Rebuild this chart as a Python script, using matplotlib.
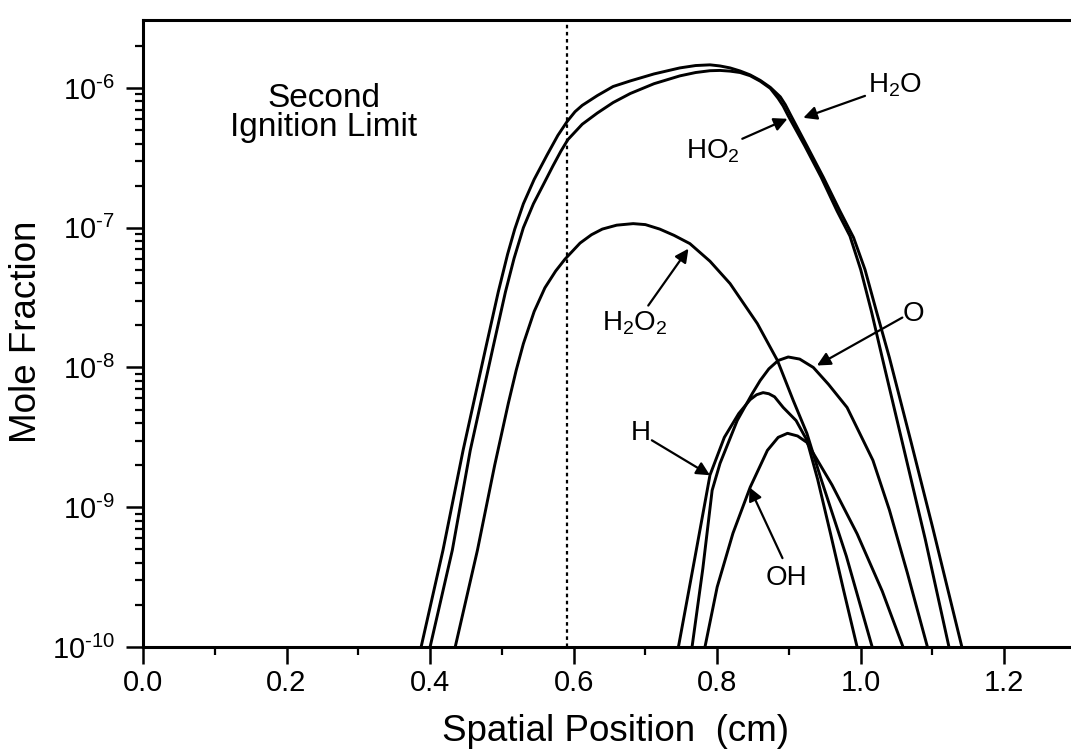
#!/usr/bin/env python3
"""
Species mole fraction profiles near the second ignition limit.
"""

import numpy as np
import matplotlib
matplotlib.use('Agg')
import matplotlib.pyplot as plt
from matplotlib.ticker import FixedLocator, NullFormatter, FuncFormatter

plt.rcParams['font.family'] = ['Liberation Sans', 'DejaVu Sans']
plt.rcParams['mathtext.fontset'] = 'custom'
plt.rcParams['mathtext.rm'] = 'Liberation Sans'
plt.rcParams['mathtext.it'] = 'Liberation Sans:italic'
plt.rcParams['mathtext.bf'] = 'Liberation Sans:bold'
plt.rcParams['mathtext.default'] = 'regular'

# Data: spatial position (cm) and log10 of mole fraction
ho2_x = [0.3875, 0.418, 0.446, 0.478, 0.495, 0.508, 0.518, 0.530, 0.545, 0.563,
         0.578, 0.591, 0.602, 0.612, 0.633, 0.655, 0.679, 0.712, 0.748, 0.770,
         0.790, 0.804, 0.818, 0.832, 0.846, 0.860, 0.874, 0.888, 0.895, 0.902,
         0.925, 0.948, 0.971, 0.990, 1.006, 1.022, 1.040, 1.070, 1.100, 1.141]
ho2_log = [-10.0, -9.307, -8.593, -7.85, -7.46, -7.19, -7.01, -6.829, -6.655, -6.48,
           -6.34, -6.24, -6.17, -6.125, -6.055, -5.99, -5.95, -5.90, -5.857, -5.84,
           -5.835, -5.843, -5.857, -5.879, -5.907, -5.946, -5.996, -6.064, -6.12, -6.19,
           -6.414, -6.64, -6.88, -7.07, -7.30, -7.60, -7.93, -8.53, -9.14, -10.0]

h2o_x = [0.400, 0.431, 0.456, 0.488, 0.505, 0.517, 0.530, 0.544, 0.557, 0.571,
         0.582, 0.592, 0.612, 0.633, 0.655, 0.679, 0.712, 0.748, 0.770, 0.790,
         0.804, 0.818, 0.832, 0.846, 0.860, 0.874, 0.885, 0.892, 0.899, 0.922,
         0.945, 0.967, 0.985, 1.000, 1.015, 1.030, 1.060, 1.090, 1.123]
h2o_log = [-10.0, -9.307, -8.593, -7.85, -7.46, -7.22, -7.00, -6.829, -6.70, -6.56,
           -6.455, -6.37, -6.26, -6.18, -6.105, -6.04, -5.97, -5.914, -5.89, -5.877,
           -5.875, -5.88, -5.89, -5.913, -5.952, -6.003, -6.075, -6.13, -6.20, -6.414,
           -6.64, -6.88, -7.06, -7.30, -7.60, -7.93, -8.58, -9.23, -10.0]

h2o2_x = [0.435, 0.466, 0.490, 0.509, 0.520, 0.530, 0.545, 0.560, 0.575, 0.588,
          0.609, 0.625, 0.640, 0.660, 0.683, 0.700, 0.720, 0.740, 0.762, 0.790,
          0.818, 0.856, 0.884, 0.906, 0.925, 0.944, 0.980, 1.016]
h2o2_log = [-10.0, -9.307, -8.70, -8.257, -8.02, -7.83, -7.60, -7.43, -7.31, -7.225,
            -7.11, -7.05, -7.01, -6.982, -6.971, -6.978, -7.01, -7.055, -7.114, -7.24,
            -7.40, -7.686, -7.95, -8.236, -8.471, -8.786, -9.35, -10.0]

h_x = [0.746, 0.769, 0.790, 0.810, 0.830, 0.846, 0.855, 0.864, 0.872, 0.880,
       0.892, 0.910, 0.925, 0.940, 0.958, 0.976, 0.995]
h_log = [-10.0, -9.36, -8.77, -8.50, -8.33, -8.23, -8.195, -8.18, -8.188, -8.21,
         -8.286, -8.38, -8.52, -8.80, -9.19, -9.59, -10.0]

o_x = [0.765, 0.780, 0.793, 0.804, 0.828, 0.849, 0.860, 0.872, 0.885, 0.899,
       0.915, 0.934, 0.955, 0.981, 1.017, 1.040, 1.065, 1.093]
o_log = [-10.0, -9.44, -8.879, -8.686, -8.379, -8.186, -8.093, -8.01, -7.95, -7.925,
         -7.94, -8.0, -8.12, -8.286, -8.664, -9.02, -9.47, -10.0]

oh_x = [0.783, 0.800, 0.822, 0.846, 0.870, 0.885, 0.898, 0.912, 0.925, 0.960,
        0.995, 1.030, 1.059]
oh_log = [-10.0, -9.571, -9.186, -8.857, -8.593, -8.50, -8.471, -8.49, -8.536, -8.84,
          -9.19, -9.60, -10.0]

ignition_limit_x = 0.591

x_ticks = [0.0, 0.2, 0.4, 0.6, 0.8, 1.0, 1.2]
x_minor = [0.1, 0.3, 0.5, 0.7, 0.9, 1.1]
y_decades = [-10, -9, -8, -7, -6]

series = [(ho2_x, ho2_log), (h2o_x, h2o_log), (h2o2_x, h2o2_log),
          (h_x, h_log), (o_x, o_log), (oh_x, oh_log)]

# Labels: text, text anchor (x, log10 y), arrow tail, arrow tip
labels = [
    ('H$_2$O',      (1.010, -6.036), (1.006, -6.057), (0.920, -6.214)),
    ('HO$_2$',      (0.757, -6.507), (0.835, -6.364), (0.898, -6.221)),
    ('H$_2$O$_2$',  (0.640, -7.736), (0.704, -7.557), (0.760, -7.150)),
    ('O',           (1.059, -7.664), (1.058, -7.643), (0.939, -7.986)),
    ('H',           (0.679, -8.521), (0.709, -8.521), (0.790, -8.771)),
    ('OH',          (0.867, -9.557), (0.891, -9.364), (0.845, -8.857)),
]


def log_label(v, pos):
    # short hyphen in the exponent, like the original
    return '10$^{\u2010%d}$' % round(-np.log10(v))


def main():
    fig = plt.figure(figsize=(10.71, 7.55), dpi=100)
    ax = fig.add_axes([0.1335, 0.1430, 0.8665, 0.8305])

    for xs, logs in series:
        ax.plot(xs, np.power(10.0, logs), color='black', lw=2.1,
                solid_joinstyle='round')

    ax.axvline(ignition_limit_x, color='black', lw=1.6, ls=(0, (1.6, 1.6)))

    ax.set_yscale('log')
    ax.set_xlim(0, 1.293)
    ax.set_ylim(1e-10, 3.06e-6)

    y_major = [10.0 ** d for d in y_decades]
    y_minor = [m * 10.0 ** d for d in y_decades for m in range(2, 10)
               if m * 10.0 ** d < 3.0e-6]
    ax.xaxis.set_major_locator(FixedLocator(x_ticks))
    ax.xaxis.set_minor_locator(FixedLocator(x_minor))
    ax.xaxis.set_major_formatter(FuncFormatter(lambda v, p: f'{v:.1f}'))
    ax.yaxis.set_major_locator(FixedLocator(y_major))
    ax.yaxis.set_minor_locator(FixedLocator(y_minor))
    ax.yaxis.set_major_formatter(FuncFormatter(log_label))
    ax.yaxis.set_minor_formatter(NullFormatter())

    ax.tick_params(axis='both', which='major', direction='out', length=12, width=1.8,
                   labelsize=21, color='black')
    ax.tick_params(axis='both', which='minor', direction='out', length=6, width=1.6)
    ax.tick_params(axis='x', which='major', pad=4)
    ax.tick_params(axis='y', which='major', pad=8)

    for side in ['left', 'bottom', 'top']:
        ax.spines[side].set_linewidth(2.2)
    ax.spines['right'].set_visible(False)

    # Annotations
    for text, txy, tail, tip in labels:
        ax.text(txy[0], 10 ** txy[1], text, fontsize=20, ha='left', va='baseline')
        ax.annotate('', xy=(tip[0], 10 ** tip[1]), xytext=(tail[0], 10 ** tail[1]),
                    arrowprops=dict(arrowstyle='-|>', color='black', lw=1.6,
                                    mutation_scale=20, shrinkA=0, shrinkB=0))

    ax.text(0.252, 10 ** -6.343, 'Second\nIgnition Limit', fontsize=24,
            ha='center', va='baseline', multialignment='center', linespacing=0.9)

    fig.text(615 / 1071, 14 / 755, 'Spatial Position  (cm)', fontsize=26.5,
             ha='center', va='baseline')
    fig.text(26.5 / 1071, 1 - 331.5 / 755, 'Mole Fraction', fontsize=26.5,
             rotation=90, ha='center', va='center')

    fig.savefig('out.png', dpi=100)


if __name__ == '__main__':
    main()
